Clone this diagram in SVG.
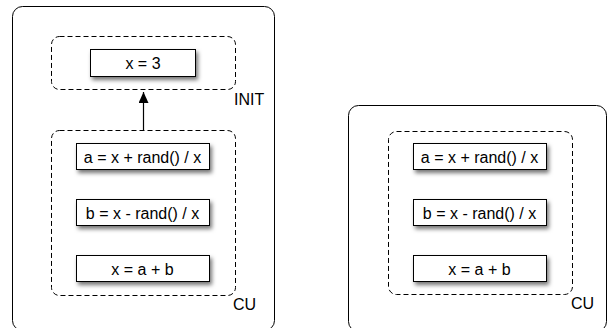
<svg xmlns="http://www.w3.org/2000/svg" width="608" height="328" viewBox="0 0 608 328">
<defs>
<filter id="sh" x="-20%" y="-40%" width="150%" height="200%">
<feDropShadow dx="2" dy="3" stdDeviation="2.2" flood-color="#000" flood-opacity="0.55"/>
</filter>
<marker id="ah" markerWidth="12" markerHeight="10" refX="11" refY="5" orient="auto" markerUnits="userSpaceOnUse" viewBox="0 0 12 10">
<path d="M0,0 L11,5 L0,10 Z" fill="#000"/>
</marker>
<style>
.outer{fill:#fff;stroke:#000;stroke-width:1}
.group{fill:none;stroke:#000;stroke-width:1;stroke-dasharray:5,3}
.node{fill:#fff;stroke:#000;stroke-width:1;filter:url(#sh)}
.t{font-family:"Liberation Sans",Arial,sans-serif;font-size:16px;fill:#000;text-anchor:middle}
.lbl{font-family:"Liberation Sans",Arial,sans-serif;font-size:16px;fill:#000}
</style>
</defs>
<rect width="608" height="328" fill="#fff"/>
<g id="panel-left">
<rect class="outer" x="12.5" y="6.5" width="262" height="324" rx="10"/>
</g>
<g id="panel-right">
<rect class="outer" x="348.5" y="105.5" width="258" height="226" rx="10"/>
</g>
<g id="init-group">
<rect class="group" x="51.5" y="36.5" width="184" height="53" rx="8"/>
<text class="lbl" x="234" y="104.5">INIT</text>
</g>
<g id="cu-left-group">
<rect class="group" x="51.5" y="130.5" width="184" height="165" rx="8"/>
<text class="lbl" x="233" y="309.5">CU</text>
</g>
<g id="cu-right-group">
<rect class="group" x="388.5" y="131.5" width="184" height="163" rx="8"/>
<text class="lbl" x="571" y="308.5">CU</text>
</g>
<g id="node-x3">
<rect class="node" x="90.5" y="49.5" width="105" height="27"/>
<text class="t" x="143" y="69">x = 3</text>
</g>
<g id="node-a-left">
<rect class="node" x="76.5" y="143.5" width="133" height="26"/>
<text class="t" x="142.5" y="162.5">a = x + rand() / x</text>
</g>
<g id="node-b-left">
<rect class="node" x="76.5" y="199.5" width="133" height="26"/>
<text class="t" x="142.5" y="218.5">b = x - rand() / x</text>
</g>
<g id="node-x-left">
<rect class="node" x="76.5" y="255.5" width="133" height="26"/>
<text class="t" x="142.5" y="274.5">x = a + b</text>
</g>
<g id="node-a-right">
<rect class="node" x="413.5" y="143.5" width="133" height="26"/>
<text class="t" x="479.5" y="162.5">a = x + rand() / x</text>
</g>
<g id="node-b-right">
<rect class="node" x="413.5" y="199.5" width="133" height="26"/>
<text class="t" x="479.5" y="218.5">b = x - rand() / x</text>
</g>
<g id="node-x-right">
<rect class="node" x="413.5" y="255.5" width="133" height="26"/>
<text class="t" x="479.5" y="274.5">x = a + b</text>
</g>
<g id="connectors">
<line x1="143.5" y1="130" x2="143.5" y2="92" stroke="#000" stroke-width="1.2" marker-end="url(#ah)"/>
</g>
</svg>
